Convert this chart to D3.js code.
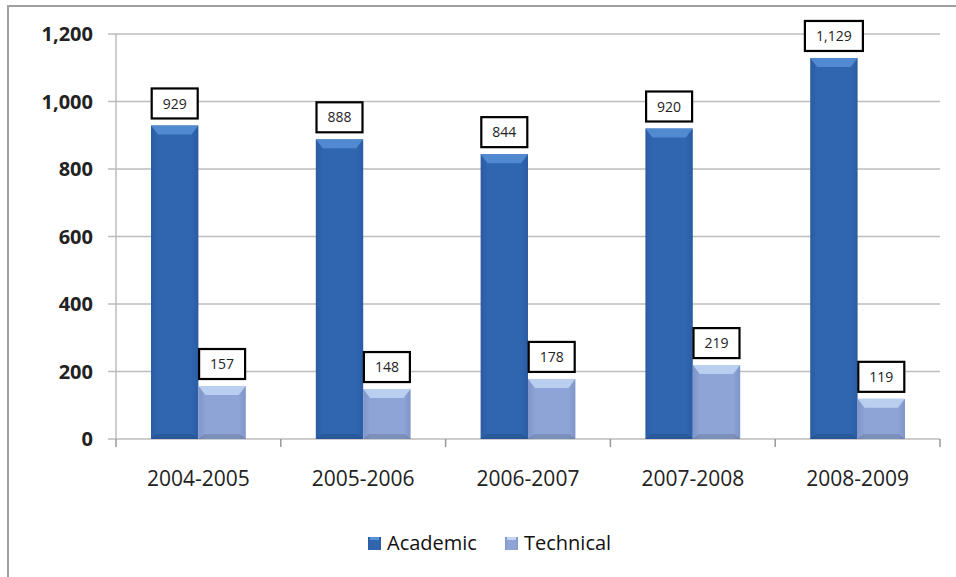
<!DOCTYPE html>
<html>
<head>
<meta charset="utf-8" />
<script src="https://d3js.org/d3.v7.min.js"></script>
<style>
    body { margin: 0; background: #fff; }
    text { font-family: "Open Sans", "DejaVu Sans", sans-serif; }
</style>
</head>
<body>
<svg width="956" height="577"></svg>
<script>
    var years = ["2004-2005", "2005-2006", "2006-2007", "2007-2008", "2008-2009"];
    var series = ["Academic", "Technical"];
    var academic = [929, 888, 844, 920, 1129];
    var technical = [157, 148, 178, 219, 119];
    var yTicks = [0, 200, 400, 600, 800, 1000, 1200];

    var svg = d3.select("svg");
    var margin = {left: 116, right: 16, top: 34, bottom: 138};
    var width = 956 - margin.left - margin.right,
        height = 577 - margin.top - margin.bottom;

    // frame (only left and top edges visible in the reference)
    svg.append("path")
        .attr("d", "M8,577V6H956")
        .attr("fill", "none")
        .attr("stroke", "#a0a0a0")
        .attr("stroke-width", 2);

    var defs = svg.append("defs");
    function grad(id, stops) {
        var g = defs.append("linearGradient").attr("id", id)
            .attr("x1", 0).attr("x2", 1).attr("y1", 0).attr("y2", 0);
        stops.forEach(function (s) {
            g.append("stop").attr("offset", s[0]).attr("stop-color", s[1]);
        });
    }
    grad("gAcad", [[0, "#2a5ca3"], [0.15, "#3066b0"], [0.85, "#3066b0"], [1, "#2a5ca3"]]);
    grad("gTech", [[0, "#7f95c9"], [0.15, "#8ea4d6"], [0.85, "#8ea4d6"], [1, "#7f95c9"]]);
    var topCol = {Academic: "#5790d6", Technical: "#c2d6f5"};

    var g = svg.append("g").attr("transform", "translate(" + margin.left + "," + margin.top + ")");

    var x = d3.scaleBand().domain(years).range([0, width]).paddingInner(0).paddingOuter(0);
    var x1 = d3.scaleBand().domain(series).range([35, x.bandwidth() - 35]);
    var y = d3.scaleLinear().domain([0, 1200]).range([height, 0]);

    // grid
    g.append("g").selectAll("line").data(yTicks).enter().append("line")
        .attr("x1", -8).attr("x2", width)
        .attr("y1", function (d) { return y(d); })
        .attr("y2", function (d) { return y(d); })
        .attr("stroke", "#bdbdbd").attr("stroke-width", 1.5);

    g.append("line").attr("x1", 0).attr("x2", 0).attr("y1", 0).attr("y2", height)
        .attr("stroke", "#bdbdbd").attr("stroke-width", 1.5);

    // y labels
    g.append("g").selectAll("text").data(yTicks).enter().append("text")
        .attr("x", -23).attr("y", function (d) { return y(d); })
        .attr("dy", "0.36em")
        .attr("text-anchor", "end")
        .attr("font-size", 20)
        .attr("font-weight", "bold")
        .attr("fill", "#222")
        .text(function (d) { return d3.format(",")(d); });

    // x axis
    var xAxis = g.append("g").attr("transform", "translate(0," + height + ")");
    xAxis.selectAll("line").data(d3.range(years.length + 1)).enter().append("line")
        .attr("x1", function (i) { return i * x.bandwidth(); })
        .attr("x2", function (i) { return i * x.bandwidth(); })
        .attr("y1", 0).attr("y2", 8)
        .attr("stroke", "#9a9a9a").attr("stroke-width", 1.5);
    xAxis.selectAll("text").data(years).enter().append("text")
        .attr("x", function (d) { return x(d) + x.bandwidth() / 2; })
        .attr("y", 47)
        .attr("text-anchor", "middle")
        .attr("font-size", 21)
        .attr("fill", "#222")
        .text(function (d) { return d; });

    var data = [];
    years.forEach(function (yr, i) {
        data.push({year: yr, key: "Academic", value: academic[i]});
        data.push({year: yr, key: "Technical", value: technical[i]});
    });

    var bars = g.append("g").selectAll("g").data(data).enter().append("g")
        .attr("transform", function (d) { return "translate(" + (x(d.year) + x1(d.key)) + ",0)"; });

    var bw = x1.bandwidth();
    bars.append("rect")
        .attr("x", 0).attr("width", bw)
        .attr("y", function (d) { return y(d.value); })
        .attr("height", function (d) { return height - y(d.value); })
        .attr("fill", function (d) { return d.key === "Academic" ? "url(#gAcad)" : "url(#gTech)"; });

    // bevel on top
    bars.append("path")
        .attr("d", function (d) {
            var t = y(d.value);
            return "M0," + t + "H" + bw + "L" + (bw - 7) + "," + (t + 9) + "H7Z";
        })
        .attr("fill", function (d) { return topCol[d.key]; })
        .attr("opacity", 0.85);
    bars.append("path")
        .attr("d", function (d) {
            var t = y(d.value);
            return "M0," + height + "L6," + (height - 5) + "H" + (bw - 6) + "L" + bw + "," + height + "Z";
        })
        .attr("fill", "#000").attr("opacity", 0.12);

    // value labels
    var lab = bars.append("g")
        .attr("transform", function (d) { return "translate(" + (bw / 2) + "," + (y(d.value) - 22) + ")"; });
    lab.append("rect")
        .attr("x", function (d) { return d.value >= 1000 ? -29 : -23; })
        .attr("width", function (d) { return d.value >= 1000 ? 58 : 46; })
        .attr("y", -15).attr("height", 30)
        .attr("fill", "#fff").attr("stroke", "#000").attr("stroke-width", 2.2);
    lab.append("text")
        .attr("text-anchor", "middle").attr("dy", "0.36em")
        .attr("font-size", 14).attr("fill", "#222")
        .text(function (d) { return d3.format(",")(d.value); });

    // legend
    var leg = svg.append("g").attr("transform", "translate(368,543)");
    var legItems = [{k: "Academic", x: 0, f: "url(#gAcad)"}, {k: "Technical", x: 137, f: "url(#gTech)"}];
    var li = leg.selectAll("g").data(legItems).enter().append("g")
        .attr("transform", function (d) { return "translate(" + d.x + ",0)"; });
    li.append("rect").attr("x", 0).attr("y", -6).attr("width", 13).attr("height", 13)
        .attr("fill", function (d) { return d.f; });
    li.append("rect").attr("x", 2).attr("y", -6).attr("width", 9).attr("height", 3)
        .attr("fill", function (d) { return topCol[d.k]; });
    li.append("text").attr("x", 19).attr("dy", "0.36em")
        .attr("font-size", 20).attr("fill", "#111")
        .text(function (d) { return d.k; });
</script>
</body>
</html>
